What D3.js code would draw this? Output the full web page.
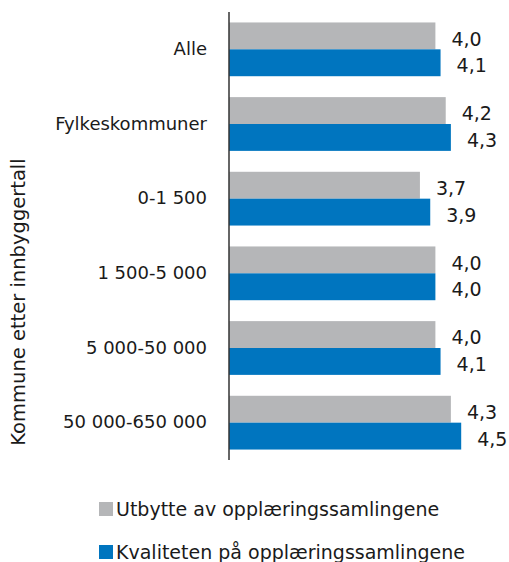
<!DOCTYPE html>
<html>
<head>
<meta charset="utf-8">
<script src="https://cdn.jsdelivr.net/npm/d3@7"></script>
<style>
  body { margin: 0; background: #fff; }
  text { font-family: "DejaVu Sans", sans-serif; fill: #1a1a1a; }
</style>
</head>
<body>
<div id="chart"></div>
<script>
// data
var categories = ["Alle", "Fylkeskommuner", "0-1 500", "1 500-5 000", "5 000-50 000", "50 000-650 000"];
var utbytte = [4.0, 4.2, 3.7, 4.0, 4.0, 4.3];
var kvalitet = [4.1, 4.3, 3.9, 4.0, 4.1, 4.5];
var seriesNames = ["Utbytte av opplæringssamlingene", "Kvaliteten på opplæringssamlingene"];
var colors = ["#b5b6b8", "#0075bf"];

var W = 509, H = 562;
var margin = {top: 12, left: 229, right: 22, bottom: 102};
var width = W - margin.left - margin.right,
    height = H - margin.top - margin.bottom;

var svg = d3.select("#chart").append("svg")
    .attr("width", W)
    .attr("height", H);

var g = svg.append("g")
    .attr("transform", "translate(" + margin.left + "," + margin.top + ")");

var x = d3.scaleLinear().domain([0, 5]).range([0, 258]);
var y = d3.scaleBand().domain(categories).range([0, height]).paddingInner(0.28).paddingOuter(0.14);
var sub = d3.scaleBand().domain([0, 1]).range([0, y.bandwidth()]);

var rows = categories.map(function(c, i) { return {cat: c, vals: [utbytte[i], kvalitet[i]]}; });

var fmt = function(v) { return d3.format(".1f")(v).replace(".", ","); };

var grp = g.selectAll(".grp").data(rows).enter().append("g")
    .attr("transform", function(d) { return "translate(0," + y(d.cat) + ")"; });

grp.selectAll("rect").data(function(d) { return d.vals; }).enter().append("rect")
    .attr("x", 0)
    .attr("y", function(d, i) { return sub(i); })
    .attr("width", function(d) { return x(d); })
    .attr("height", sub.bandwidth())
    .attr("fill", function(d, i) { return colors[i]; });

grp.selectAll(".val").data(function(d) { return d.vals; }).enter().append("text")
    .attr("class", "val")
    .attr("x", function(d) { return x(d) + 16; })
    .attr("y", function(d, i) { return sub(i) + sub.bandwidth() / 2 + 3; })
    .attr("dy", "0.35em")
    .style("font-size", "19px")
    .text(fmt);

// axis
var yAxis = d3.axisLeft(y).tickSize(0).tickPadding(22);
var gy = g.append("g").call(yAxis);
gy.select(".domain").attr("stroke", "#333").attr("stroke-width", 1.5)
  .attr("d", "M0,0V" + height);
gy.selectAll("text")
    .style("font-size", "18px")
    .style("font-family", "'DejaVu Sans', sans-serif")
    .attr("fill", "#1a1a1a");

svg.append("text")
    .attr("transform", "translate(25," + 302 + ") rotate(-90)")
    .attr("text-anchor", "middle")
    .style("font-size", "19.5px")
    .text("Kommune etter innbyggertall");

// legend
var leg = svg.append("g").attr("transform", "translate(99,502)");
var li = leg.selectAll("g").data(seriesNames).enter().append("g")
    .attr("transform", function(d, i) { return "translate(0," + (i * 43) + ")"; });
li.append("rect").attr("width", 14).attr("height", 14)
    .attr("fill", function(d, i) { return colors[i]; });
li.append("text").attr("x", 17).attr("y", 7).attr("dy", "0.36em")
    .style("font-size", "19px")
    .text(function(d) { return d; });
</script>
</body>
</html>
